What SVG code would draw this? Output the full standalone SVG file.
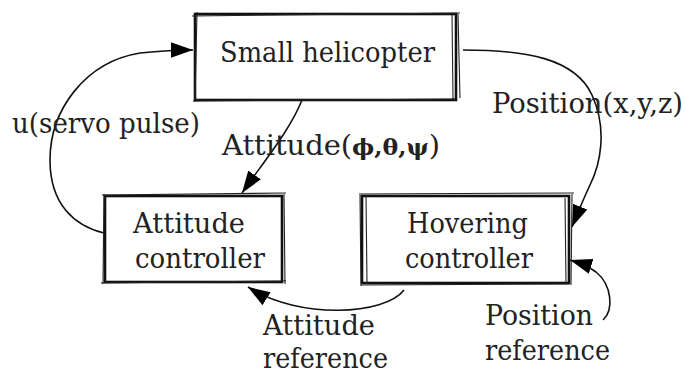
<svg xmlns="http://www.w3.org/2000/svg" width="685" height="374" viewBox="0 0 685 374">
<defs>
<style>
text{font-family:"DejaVu Serif","Liberation Serif",serif;font-size:27px;fill:#222}
.box{fill:#fff;stroke:#111;stroke-width:2.6}
.sk{fill:none;stroke:#222;stroke-width:1.1}
.edge{fill:none;stroke:#111;stroke-width:1.6}
</style>
<marker id="ah" viewBox="0 0 10 10" refX="10" refY="5" markerWidth="22" markerHeight="22" markerUnits="userSpaceOnUse" orient="auto">
<path d="M0,1.5 L10,5 L0,8.5 Z" fill="#000"/>
</marker>
</defs>
<rect width="685" height="374" fill="#fff"/>
<g id="connectors">
<path class="edge" marker-end="url(#ah)" d="M104,233 C75,226 50,205 50,160 C50,110 85,62 140,53 C160,51 175,50 193,50"/>
<path class="edge" marker-end="url(#ah)" d="M302,100 C290,130 265,160 242,193"/>
<path class="edge" marker-end="url(#ah)" d="M463,50 C525,50 575,58 592,95 C608,130 600,165 590,185 C583,200 578,212 572,227"/>
<path class="edge" marker-end="url(#ah)" d="M404,290 C385,315 300,320 248,287"/>
<path class="edge" marker-end="url(#ah)" d="M603,320 C614,310 612,285 596,272 C588,266 580,263 570,260"/>
</g>
<g id="small-helicopter">
<rect class="box" x="195" y="14" width="261" height="86"/>
<path class="sk" d="M192,16 L460,13 M458,14 L460,98 M197,12 L195,102 M193,101 L455,99 M452,15 L453,99"/>
<text x="220" y="62" textLength="215" lengthAdjust="spacingAndGlyphs">Small helicopter</text>
</g>
<g id="attitude-controller">
<rect class="box" x="105" y="196" width="177" height="86"/>
<path class="sk" d="M102,195 L286,193 M284,194 L285,284 M104,194 L103,284 M101,283 L286,281"/>
<text x="133" y="233" textLength="112" lengthAdjust="spacingAndGlyphs">Attitude</text>
<text x="135" y="268" textLength="130" lengthAdjust="spacingAndGlyphs">controller</text>
</g>
<g id="hovering-controller">
<rect class="box" x="362" y="196" width="207" height="87"/>
<path class="sk" d="M359,194 L574,193 M572,194 L571,285 M366,196 L367,283 M360,195 L361,286 M565,198 L566,283 M361,285 L569,284"/>
<text x="407" y="233" textLength="121" lengthAdjust="spacingAndGlyphs">Hovering</text>
<text x="405" y="268" textLength="128" lengthAdjust="spacingAndGlyphs">controller</text>
</g>
<g id="labels">
<text x="12" y="133" textLength="188" lengthAdjust="spacingAndGlyphs">u(servo pulse)</text>
<text x="222" y="155" textLength="218" lengthAdjust="spacingAndGlyphs">Attitude(<tspan font-weight="bold" font-size="22">ϕ,θ,ψ</tspan>)</text>
<text x="492" y="113" textLength="191" lengthAdjust="spacingAndGlyphs">Position(x,y,z)</text>
<text x="263" y="335" textLength="112" lengthAdjust="spacingAndGlyphs">Attitude</text>
<text x="263" y="368" textLength="125" lengthAdjust="spacingAndGlyphs">reference</text>
<text x="485" y="325" textLength="108" lengthAdjust="spacingAndGlyphs">Position</text>
<text x="485" y="360" textLength="125" lengthAdjust="spacingAndGlyphs">reference</text>
</g>
</svg>
